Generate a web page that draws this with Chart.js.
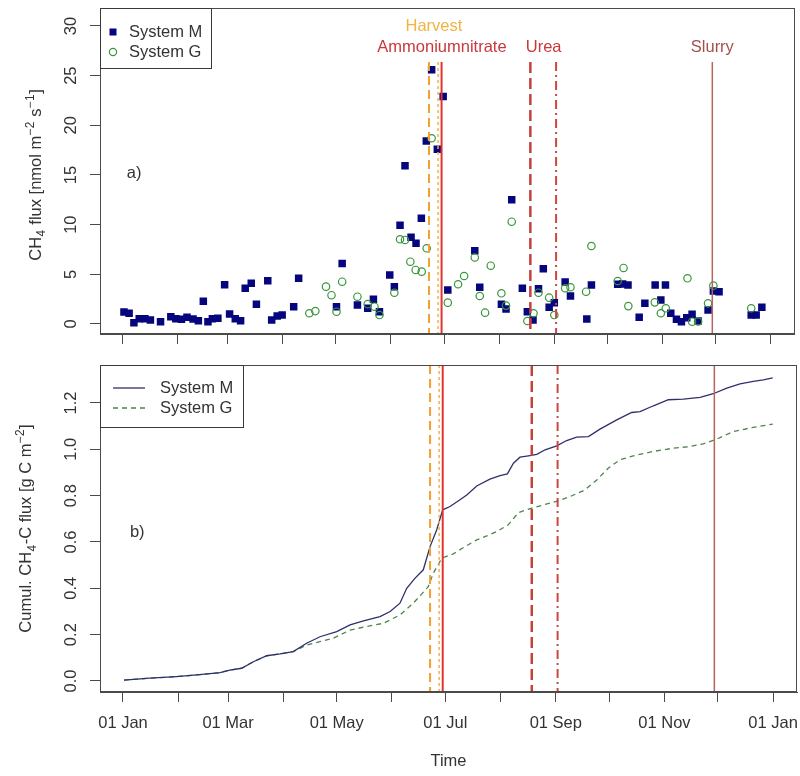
<!DOCTYPE html>
<html><head><meta charset="utf-8">
<script src="https://cdn.jsdelivr.net/npm/chart.js@4.4.0/dist/chart.umd.min.js"></script>
<style>
html,body{margin:0;padding:0;background:#fff;}
#wrap{position:relative;width:800px;height:776px;background:#fff;}
#c1{position:absolute;left:0;top:0;}
#c2{position:absolute;left:0;top:340px;}
</style></head><body>
<div id="wrap"><canvas id="c1" width="800" height="350"></canvas><canvas id="c2" width="800" height="436"></canvas></div>
<script>
// ---- data (days since 01 Jan) ----
const mDays = [0.6,3.5,6.2,9.2,12.4,15.5,21.2,27,29.8,33,36.1,39.5,42.5,45.3,47.9,50.4,53.5,57.3,60.1,63.3,66.3,68.9,72.3,75.2,81.6,83.8,86.9,89.7,96.2,99,120.3,123.5,132.1,137.9,141.1,144.5,150.3,152.9,156.1,158.9,162.3,165.1,168.1,170.9,173.9,177.1,180.4,183,198.2,201,213.2,215.8,219,225,227.8,231,234.1,236.8,240.1,243,249.1,252.1,261.3,263.9,278.7,281.5,284.5,290.8,294,299.8,303,305.6,308.6,311.8,314.6,317.6,320.6,324,329.6,332.6,335.8,353.9,356.7,359.9];
const mFlux = [1.2,1.08,0.13,0.53,0.53,0.4,0.23,0.74,0.53,0.47,0.67,0.5,0.33,2.3,0.23,0.53,0.57,3.96,1.0,0.53,0.33,3.6,4.1,2.0,4.36,0.4,0.8,0.9,1.74,4.6,1.74,6.1,1.9,1.58,2.5,1.24,4.93,3.76,9.94,15.94,8.73,8.13,10.64,18.43,25.6,17.6,22.9,3.42,7.38,3.7,2.0,1.5,12.5,3.6,1.24,0.4,3.56,5.57,1.68,2.15,4.23,2.82,0.5,3.93,4.0,4.03,3.93,0.67,2.1,3.93,2.42,3.93,1.08,0.47,0.23,0.63,0.97,0.3,1.4,3.32,3.25,0.9,0.9,1.68];
const gDays = [105,108.4,114.4,117.5,120.3,123.5,132.1,137.9,141.7,144.5,152.9,156.1,158.9,161.9,164.9,168.3,171.1,173.9,183,188.8,192.2,198.2,201,204,207.2,213.2,215.8,219,227.8,231.3,234.1,240.1,243,249.1,252.1,260.9,263.9,278.7,282,284.7,299.6,303,305.8,318,320.6,324,329.6,332.6,353.9];
const gFlux = [1.08,1.3,3.76,2.9,1.24,4.26,2.75,2.0,1.74,0.9,3.15,8.53,8.46,6.27,5.44,5.27,7.62,18.7,2.15,4.0,4.83,6.7,2.82,1.14,5.87,3.09,1.85,10.3,0.3,1.08,3.15,2.65,0.9,3.6,3.7,3.25,7.85,4.33,5.64,1.8,2.18,1.08,1.58,4.6,0.23,0.25,2.08,3.86,1.58];

const cumDaysM = [0.6,15,30,41.4,54.5,60,66.6,73.2,80.7,88.2,95.6,103.1,110.6,120,127.5,135,144.3,150,155.5,159.3,164,168.6,172.4,176.1,179.5,183.6,189.2,193,198.6,206,211.7,215.8,219.2,222.9,227.6,232.3,237,243.5,249.1,254.7,261.3,267.8,277.2,285.6,290.3,297.8,306.2,314.6,324,331.4,339,346.4,353.9,359.5,364.8];
const cumM = [0.004,0.012,0.019,0.026,0.036,0.047,0.055,0.083,0.109,0.117,0.127,0.163,0.191,0.213,0.242,0.259,0.278,0.3,0.336,0.40,0.444,0.48,0.58,0.652,0.739,0.753,0.782,0.803,0.842,0.871,0.886,0.894,0.94,0.966,0.972,0.978,0.998,1.015,1.038,1.053,1.055,1.087,1.127,1.159,1.163,1.188,1.214,1.217,1.224,1.24,1.264,1.283,1.293,1.30,1.308];
const cumDaysG = [0.6,15,30,41.4,54.5,60,66.6,73.2,80.7,88.2,95.6,103,118,127.5,136.8,146.2,155.5,163,171.4,174.2,179,185.5,192,198.6,204.2,209.8,216.3,222,229.5,236,244.4,251,259.4,266,272.5,279,286.5,297.8,309,318.4,325.8,333.3,342.7,352,364.8];
const cumG = [0.004,0.012,0.019,0.026,0.036,0.047,0.055,0.083,0.109,0.117,0.127,0.155,0.184,0.22,0.235,0.249,0.285,0.336,0.407,0.465,0.53,0.549,0.58,0.609,0.626,0.645,0.674,0.727,0.746,0.760,0.778,0.796,0.825,0.868,0.919,0.955,0.972,0.991,1.005,1.012,1.024,1.044,1.077,1.092,1.109];

const tickDays = [0,31,59,90,120,151,181,212,243,273,304,334,365];
const tickLabels = ['01 Jan','','01 Mar','','01 May','','01 Jul','','01 Sep','','01 Nov','','01 Jan'];
const fluxTicks = [0,5,10,15,20,25,30];
const cumTicks = [0,0.2,0.4,0.6,0.8,1.0,1.2];

const eventDays = [172.4,177.5,179.5,229.5,244,332];
const labelNames = ['Harvest','Ammoniumnitrate','Urea','Slurry'];
const labelDays = [175.2,179.7,237,332];
const seriesNames = ['System M','System G'];
const yTitleTop = [{t:'CH'},{t:'4',k:'sub'},{t:' flux [nmol m'},{t:'\u22122',k:'sup'},{t:' s'},{t:'\u22121',k:'sup'},{t:']'}];
const yTitleBottom = [{t:'Cumul. CH'},{t:'4',k:'sub'},{t:'-C flux [g C m'},{t:'\u22122',k:'sup'},{t:']'}];

// ---- styles ----
const FONT = "'Liberation Sans', Arial, Helvetica, sans-serif";
const FS = 16.5;
const TXT = '#333333';
const AX = '#4a4a4a';
const M_COL = '#05057d';
const G_COL = '#3a963a';
const ML_COL = '#2f2f6e';
const GL_COL = '#4b864b';
const eventStyles = [
  {color:'#f1a22c', width:2,   dash:[9,5]},
  {color:'#f2b24c', width:1.5, dash:[3,3]},
  {color:'#e3352d', width:2,   dash:[]},
  {color:'#c93f3b', width:2.5, dash:[11,5]},
  {color:'#d0453f', width:2,   dash:[9,4,2,4]},
  {color:'#b5645e', width:1.5, dash:[]}
];
const labelStyles = [
  {color:'#f1b343', y:26},
  {color:'#c9383a', y:47},
  {color:'#c9383a', y:47},
  {color:'#a4504c', y:47}
];
const XMIN = -12.9, XMAX = 378.4;

function noPad(s) { s.paddingLeft = 0; s.paddingRight = 0; s.paddingTop = 0; s.paddingBottom = 0; }

function xAxis(showLabels, height) {
  return {
    type:'linear', min:XMIN, max:XMAX,
    afterBuildTicks: s => { s.ticks = tickDays.map(v => ({value:v})); },
    afterFit: s => { s.height = height; noPad(s); },
    grid:{drawOnChartArea:false, drawTicks:true, tickLength:10, tickColor:AX, tickWidth:1},
    border:{display:true, color:AX, width:1},
    ticks:{autoSkip:false, minRotation:0, maxRotation:0, padding:12, color:TXT,
      font:{family:FONT, size:FS},
      callback: v => showLabels ? tickLabels[tickDays.indexOf(v)] : ''}
  };
}
function yAxis(min, max, ticks, fmt, tickPad) {
  return {
    type:'linear', min:min, max:max,
    afterBuildTicks: s => { s.ticks = ticks.map(v => ({value:v})); },
    afterFit: s => { s.width = 100; noPad(s); },
    grid:{drawOnChartArea:false, drawTicks:true, tickLength:10, tickColor:AX, tickWidth:1},
    border:{display:true, color:AX, width:1},
    ticks:{autoSkip:false, minRotation:90, maxRotation:90, crossAlign:'center', padding:tickPad, color:TXT,
      font:{family:FONT, size:FS}, callback: fmt},
    title:{display:false}
  };
}

function drawRich(ctx, segs, cx, cy, size) {
  let total = 0;
  const parts = segs.map(s => {
    const fs = s.k ? size * 0.72 : size;
    ctx.font = fs + 'px ' + FONT;
    const w = ctx.measureText(s.t).width + (s.k ? 1 : 0);
    total += w;
    return {s, fs, w};
  });
  ctx.save();
  ctx.translate(cx, cy); ctx.rotate(-Math.PI / 2);
  ctx.textAlign = 'left'; ctx.textBaseline = 'alphabetic'; ctx.fillStyle = TXT;
  let x = -total / 2;
  const base = size * 0.36;
  parts.forEach(p => {
    ctx.font = p.fs + 'px ' + FONT;
    const dy = p.s.k === 'sup' ? -size * 0.45 : (p.s.k === 'sub' ? size * 0.25 : 0);
    ctx.fillText(p.s.t, x + (p.s.k ? 0.5 : 0), base + dy);
    x += p.w;
  });
  ctx.restore();
}

const decor = {
  id:'decor',
  afterDatasetsDraw(chart, args, o) {
    const {ctx, chartArea:a, scales:{x, y}} = chart;
    ctx.save();
    const top = o.lineTopValue != null ? y.getPixelForValue(o.lineTopValue) : a.top;
    eventDays.forEach((d, i) => {
      const st = eventStyles[i];
      const px = x.getPixelForValue(d);
      ctx.beginPath();
      ctx.strokeStyle = st.color; ctx.lineWidth = st.width; ctx.setLineDash(st.dash);
      ctx.moveTo(px, top); ctx.lineTo(px, a.bottom); ctx.stroke();
    });
    ctx.setLineDash([]);
    if (o.showLabels) {
      ctx.font = FS + 'px ' + FONT; ctx.textAlign = 'center'; ctx.textBaseline = 'middle';
      labelNames.forEach((t, i) => {
        ctx.fillStyle = labelStyles[i].color;
        ctx.fillText(t, x.getPixelForValue(labelDays[i]), labelStyles[i].y - chart.canvas.offsetTop);
      });
    }
    // panel letter
    ctx.fillStyle = TXT; ctx.font = FS + 'px ' + FONT; ctx.textAlign = 'left'; ctx.textBaseline = 'middle';
    ctx.fillText(o.letter, x.getPixelForValue(o.letterAt[0]), y.getPixelForValue(o.letterAt[1]));
    // y title
    drawRich(ctx, o.yTitle, o.yTitleX, (a.top + a.bottom) / 2 + o.yTitleShift, FS);
    // box
    ctx.strokeStyle = AX; ctx.lineWidth = 1;
    ctx.strokeRect(Math.round(a.left)+0.5, Math.round(a.top)+0.5, Math.round(a.right-a.left)-1, Math.round(a.bottom-a.top)-1);
    // legend
    const L = o.legend;
    const bx = Math.round(a.left)+0.5, by = Math.round(a.top)+0.5;
    ctx.fillStyle = '#fff';
    ctx.fillRect(bx, by, L.w, L.h);
    ctx.strokeStyle = '#3a3a3a'; ctx.lineWidth = 1;
    ctx.strokeRect(bx, by, L.w, L.h);
    ctx.font = FS + 'px ' + FONT; ctx.textAlign = 'left'; ctx.textBaseline = 'middle';
    seriesNames.forEach((n, i) => {
      const ry = a.top + L.rows[i];
      if (L.kind === 'points') {
        if (i === 0) { ctx.fillStyle = M_COL; ctx.fillRect(a.left + L.mx - 3.5, ry - 3.5, 7, 7); }
        else { ctx.strokeStyle = G_COL; ctx.lineWidth = 1.2; ctx.beginPath(); ctx.arc(a.left + L.mx, ry, 3.6, 0, Math.PI*2); ctx.stroke(); }
      } else {
        ctx.strokeStyle = i === 0 ? ML_COL : GL_COL; ctx.lineWidth = 1.3;
        ctx.setLineDash(i === 0 ? [] : [5,4]);
        ctx.beginPath(); ctx.moveTo(a.left + L.lx0, ry); ctx.lineTo(a.left + L.lx1, ry); ctx.stroke();
        ctx.setLineDash([]);
      }
      ctx.fillStyle = TXT;
      ctx.fillText(n, a.left + L.tx, ry);
    });
    ctx.restore();
  }
};

const common = {
  responsive:false, animation:false, devicePixelRatio:1,
  events:[]
};

new Chart(document.getElementById('c1'), {
  type:'scatter',
  data:{datasets:[
    {label:seriesNames[1], order:0, data:gDays.map((d,i)=>({x:d,y:gFlux[i]})),
      pointStyle:'circle', pointRadius:3.7, backgroundColor:'rgba(0,0,0,0)', borderColor:G_COL, borderWidth:1.2},
    {label:seriesNames[0], order:1, data:mDays.map((d,i)=>({x:d,y:mFlux[i]})),
      pointStyle:'rect', pointRadius:5.3, backgroundColor:M_COL, borderColor:M_COL, borderWidth:0}
  ]},
  options:Object.assign({}, common, {
    layout:{padding:{left:0, right:3, top:8, bottom:0}},
    scales:{
      x:xAxis(false, 16),
      y:yAxis(-1.007, 31.81, fluxTicks, v => String(v), 9)
    },
    plugins:{legend:{display:false}, tooltip:{enabled:false},
      decor:{lineTopValue:26.38, showLabels:true, letter:'a)', letterAt:[2.2,15.2],
        yTitle:yTitleTop, yTitleX:35, yTitleShift:4,
        legend:{kind:'points', w:111, h:60, rows:[24,44], mx:13, tx:29}}}
  }),
  plugins:[decor]
});

new Chart(document.getElementById('c2'), {
  type:'line',
  data:{datasets:[
    {label:seriesNames[0], data:cumDaysM.map((d,i)=>({x:d,y:cumM[i]})),
      borderColor:ML_COL, borderWidth:1.3, pointRadius:0, fill:false, tension:0},
    {label:seriesNames[1], data:cumDaysG.map((d,i)=>({x:d,y:cumG[i]})),
      borderColor:GL_COL, borderWidth:1.3, borderDash:[5,4], pointRadius:0, fill:false, tension:0}
  ]},
  options:Object.assign({}, common, {
    layout:{padding:{left:0, right:3, top:25, bottom:0}},
    scales:{
      x:Object.assign(xAxis(true, 84), {title:{display:true, text:'Time', color:TXT, font:{family:FONT, size:FS}, padding:{top:0, bottom:4.6}}}),
      y:yAxis(-0.0475, 1.364, cumTicks, v => v.toFixed(1), 7)
    },
    plugins:{legend:{display:false}, tooltip:{enabled:false},
      decor:{lineTopValue:null, showLabels:false, letter:'b)', letterAt:[3.9,0.643],
        yTitle:yTitleBottom, yTitleX:25.5, yTitleShift:0,
        legend:{kind:'lines', w:143, h:62, rows:[23,43], lx0:13, lx1:45, tx:60}}}
  }),
  plugins:[decor]
});
</script>
</body></html>
